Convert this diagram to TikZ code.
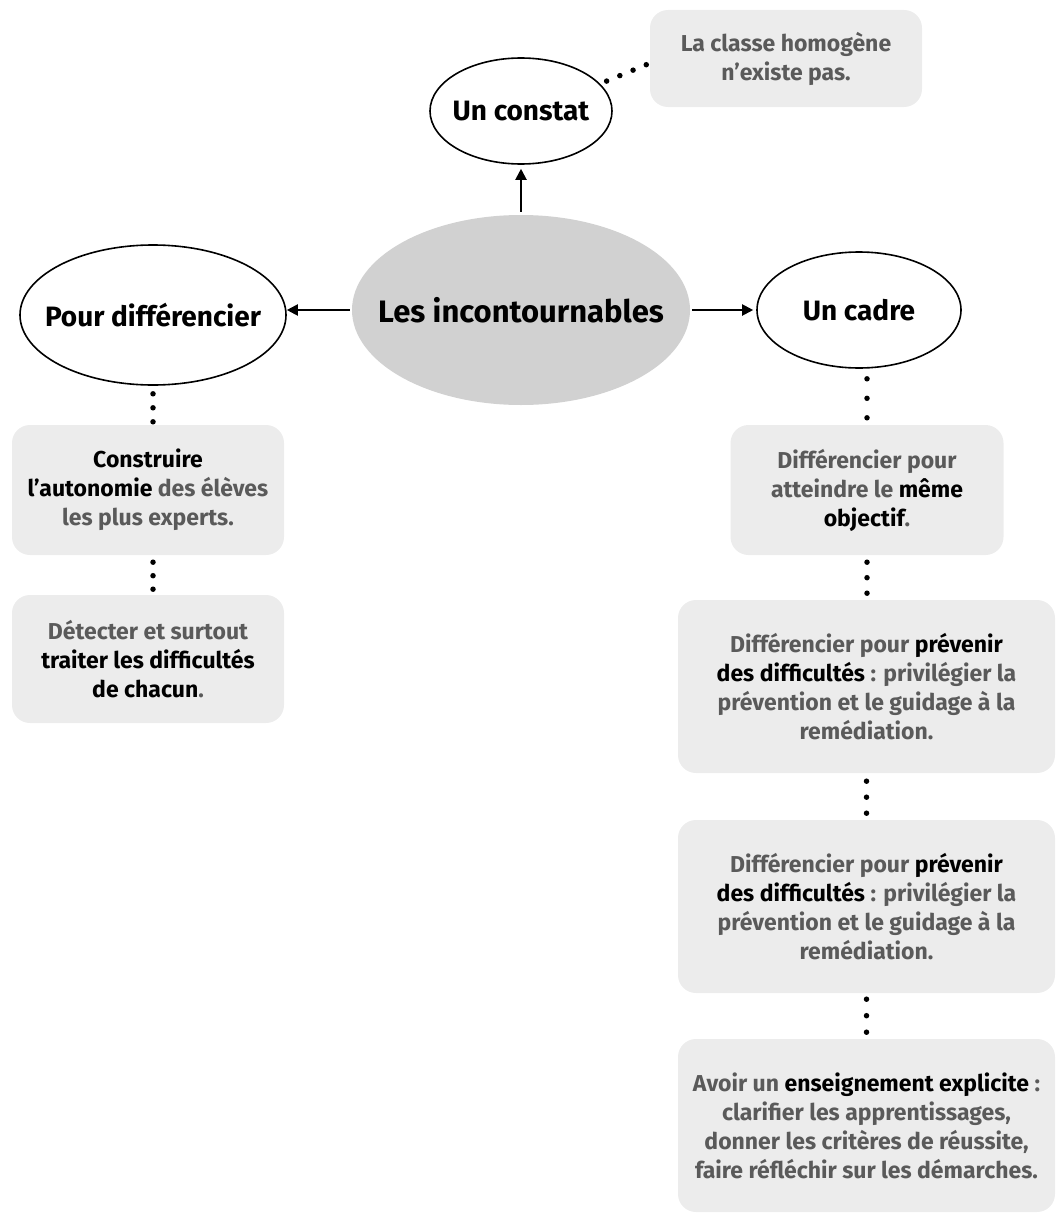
\documentclass[tikz,border=0pt]{standalone}
\usepackage{fontspec}
\setmainfont{Fira Sans}
\usetikzlibrary{shapes.geometric,arrows.meta}
\definecolor{txtgray}{HTML}{5A5A5A}
\definecolor{boxfill}{HTML}{ECECEC}
\definecolor{hubfill}{HTML}{D1D1D1}
\newcommand{\gr}[1]{\textcolor{txtgray}{#1}}
% zero-width label so an ellipse keeps its given size
\newcommand{\zwlabel}[1]{\makebox[0pt][c]{#1}}
\begin{document}
\begin{tikzpicture}[x=1pt,y=-1pt,
  every node/.style={font=\bfseries, inner sep=0pt, align=center},
  hub/.style={ellipse, fill=hubfill, minimum width=338pt, minimum height=190pt,
    font=\bfseries\fontsize{31}{36}\selectfont},
  branch/.style={ellipse, draw, line width=1.6pt, fill=white,
    font=\bfseries\fontsize{28}{32}\selectfont},
  infobox/.style={rectangle, rounded corners=18pt, fill=boxfill,
    font=\bfseries\fontsize{23}{29}\selectfont},
  link/.style={line width=2pt, -{Triangle[length=11pt,width=11pt]}},
  dotlink/.style={line width=5.5pt, line cap=round, dash pattern=on 0pt off #1}
]
\useasboundingbox (0,0) rectangle (1064,1215);

% central theme and its three branches
\node[hub] (hub) at (521,310) {\zwlabel{Les incontournables}};
\node[branch, minimum width=182pt, minimum height=106pt] (constat) at (521,111) {\zwlabel{Un constat}};
\node[branch, minimum width=266pt, minimum height=140pt] (pour) at (153,315) {\zwlabel{Pour différencier}};
\node[branch, minimum width=204pt, minimum height=116pt] (cadre) at (859,310) {\zwlabel{Un cadre}};

% remark attached to "Un constat"
\node[infobox, minimum width=272pt, minimum height=97pt] (note) at (786,58.5)
  {\gr{La classe homogène}\\ \gr{n’existe pas.}};

% left column
\node[infobox, minimum width=272pt, minimum height=130pt] (L1) at (148,490)
  {Construire\\ l’autonomie \gr{des élèves}\\ \gr{les plus experts.}};
\node[infobox, minimum width=272pt, minimum height=128pt] (L2) at (148,659)
  {\gr{Détecter et surtout}\\ traiter les difficultés\\ de chacun\gr{.}};

% right column
\node[infobox, minimum width=273pt, minimum height=130pt] (R1) at (867,490)
  {\gr{Différencier pour}\\ \gr{atteindre le} même\\ objectif\gr{.}};
\node[infobox, minimum width=377pt, minimum height=173pt] (R2) at (866.5,686.5)
  {\gr{Différencier pour} prévenir\\ des difficultés \gr{: privilégier la}\\
   \gr{prévention et le guidage à la}\\ \gr{remédiation.}};
\node[infobox, minimum width=377pt, minimum height=173pt] (R3) at (866.5,906.5)
  {\gr{Différencier pour} prévenir\\ des difficultés \gr{: privilégier la}\\
   \gr{prévention et le guidage à la}\\ \gr{remédiation.}};
\node[infobox, minimum width=377pt, minimum height=173pt] (R4) at (866.5,1125.5)
  {\gr{Avoir un} enseignement explicite \gr{:}\\ \gr{clarifier les apprentissages,}\\
   \gr{donner les critères de réussite,}\\ \gr{faire réfléchir sur les démarches.}};

% arrows out of the hub
\draw[link, shorten <=3pt, shorten >=4pt] (hub.north) -- (constat.south);
\draw[link, shorten <=2pt] (hub.west) -- (hub.west -| pour.east);
\draw[link, shorten <=2pt, shorten >=3pt] (hub.east) -- (cadre.west);

% dotted links: each path runs half a gap past its last dot
\draw[dotlink=14.3pt, shorten <=7pt, shorten >=-3pt] (constat.19) -- (note.182);
\draw[dotlink=14pt, shorten <=8pt, shorten >=-3pt] (pour.south) -- (pour.south |- L1.north);
\draw[dotlink=13.5pt, shorten <=7pt, shorten >=-1pt] (L1.south -| pour.south) -- (L2.north -| pour.south);
\draw[dotlink=19.5pt, shorten <=10pt, shorten >=-2pt] (cadre.south -| R1.north) -- (R1.north);
\draw[dotlink=15.5pt, shorten <=7pt, shorten >=-1pt] (R1.south) -- (R1.south |- R2.north);
\draw[dotlink=16pt, shorten <=8pt, shorten >=-1pt] (R2.south) -- (R3.north);
\draw[dotlink=16.5pt, shorten <=6pt, shorten >=-1pt] (R3.south) -- (R4.north);
\end{tikzpicture}
\end{document}
